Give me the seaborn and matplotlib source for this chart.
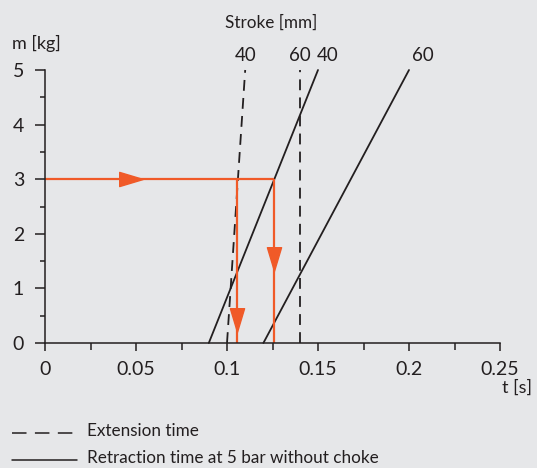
import numpy as np
import pandas as pd
import matplotlib.pyplot as plt
from matplotlib.lines import Line2D
from matplotlib.path import Path
from matplotlib.ticker import MultipleLocator, FormatStrFormatter
import seaborn as sns

# cylinder curves: t [s] at m = 0 and m = 5 kg
strokes = ['40', '60', '40', '60']
kinds = ['Extension', 'Extension', 'Retraction', 'Retraction']
t_at_0 = [0.100, 0.140, 0.090, 0.120]
t_at_5 = [0.110, 0.140, 0.150, 0.200]
m_ends = [0, 5]
label_x = [0.1102, 0.1398, 0.1555, 0.2077]

# orange reading example
m_read = 3
t_read = [0.1055, 0.1256]
arrow_h = [0.0475]          # arrow on horizontal (t position), at m_read
arrow_v = [0.43, 1.54]      # arrows on verticals (m position)

bg = '#e6e7e9'
orange = '#f05a28'
ink = '#231f20'

rows = []
for i, (s, k) in enumerate(zip(strokes, kinds)):
    rows.append({'series': f'{k} {s} #{i}', 'kind': k, 't': t_at_0[i], 'm': m_ends[0]})
    rows.append({'series': f'{k} {s} #{i}', 'kind': k, 't': t_at_5[i], 'm': m_ends[1]})
df = pd.DataFrame(rows)

sns.set_theme(style='ticks', rc={'figure.facecolor': bg, 'axes.facecolor': bg,
                                 'axes.edgecolor': ink, 'xtick.color': ink, 'ytick.color': ink,
                                 'text.color': ink})
plt.rcParams['font.family'] = ['Lato', 'DejaVu Sans']
fs = 12.3
fs_num = 14

fig = plt.figure(figsize=(5.37, 4.68), dpi=100)
ax = fig.add_axes([45/537, 1-343/468, 455/537, 273/468])

pal = {name: ink for name in df['series'].unique()}
sns.lineplot(data=df, x='t', y='m', hue='series', style='kind', palette=pal,
             dashes={'Extension': (6, 4), 'Retraction': ''}, estimator=None,
             sort=False, lw=1.3, legend=False, ax=ax)
for line in ax.lines:
    line.set_clip_on(False)

# orange path
ax.plot([0, t_read[1]], [m_read, m_read], color=orange, lw=1.6, solid_capstyle='butt')
for t in t_read:
    ax.plot([t, t], [m_read, 0], color=orange, lw=1.6, solid_capstyle='butt')

tri_r = Path([(-1, -0.6), (1, 0), (-1, 0.6), (-1, -0.6)], [1, 2, 2, 79])
tri_d = Path([(-0.6, 1), (0, -1), (0.6, 1), (-0.6, 1)], [1, 2, 2, 79])
ax.plot(arrow_h, [m_read], marker=tri_r, ms=17, color=orange, ls='none')
ax.plot(t_read, arrow_v, marker=tri_d, ms=17, color=orange, ls='none')

ax.set_xlim(0, 0.25)
ax.set_ylim(0, 5)
ax.set_xlabel('')
ax.set_ylabel('')
sns.despine(ax=ax)
ax.xaxis.set_major_locator(MultipleLocator(0.05))
ax.xaxis.set_minor_locator(MultipleLocator(0.025))
ax.yaxis.set_major_locator(MultipleLocator(1))
ax.yaxis.set_minor_locator(MultipleLocator(0.5))
ax.xaxis.set_major_formatter(FormatStrFormatter('%g'))
ax.tick_params(axis='x', which='major', length=6, width=1.1, pad=7, labelsize=fs_num)
ax.tick_params(axis='x', which='minor', length=5, width=1.1)
ax.tick_params(axis='y', which='major', length=7, width=1.1, pad=8, labelsize=fs_num)
ax.tick_params(axis='y', which='minor', length=3.5, width=1.1)
for sp in ax.spines.values():
    sp.set_linewidth(1.1)

# stroke labels
for x, s in zip(label_x, strokes):
    ax.text(x, 5.27, s, ha='center', va='center', fontsize=13.5)
ax.text(0.1245, 5.87, 'Stroke [mm]', ha='center', va='center', fontsize=fs)
fig.text(12/537, 1-43/468, 'm [kg]', ha='left', va='center', fontsize=13)
fig.text(532/537, 1-388/468, 't [s]', ha='right', va='center', fontsize=13)

# legend
fig.add_artist(Line2D([12/537, 77/537], [1-433/468]*2, color=ink, lw=1.1, dashes=(9.5, 5.5)))
fig.add_artist(Line2D([12/537, 77/537], [1-460/468]*2, color=ink, lw=1.1))
fig.text(87/537, 1-431/468, 'Extension time', ha='left', va='center', fontsize=fs)
fig.text(87/537, 1-458/468, 'Retraction time at 5 bar without choke', ha='left', va='center', fontsize=fs)

fig.savefig('out.png', dpi=100, facecolor=bg)
